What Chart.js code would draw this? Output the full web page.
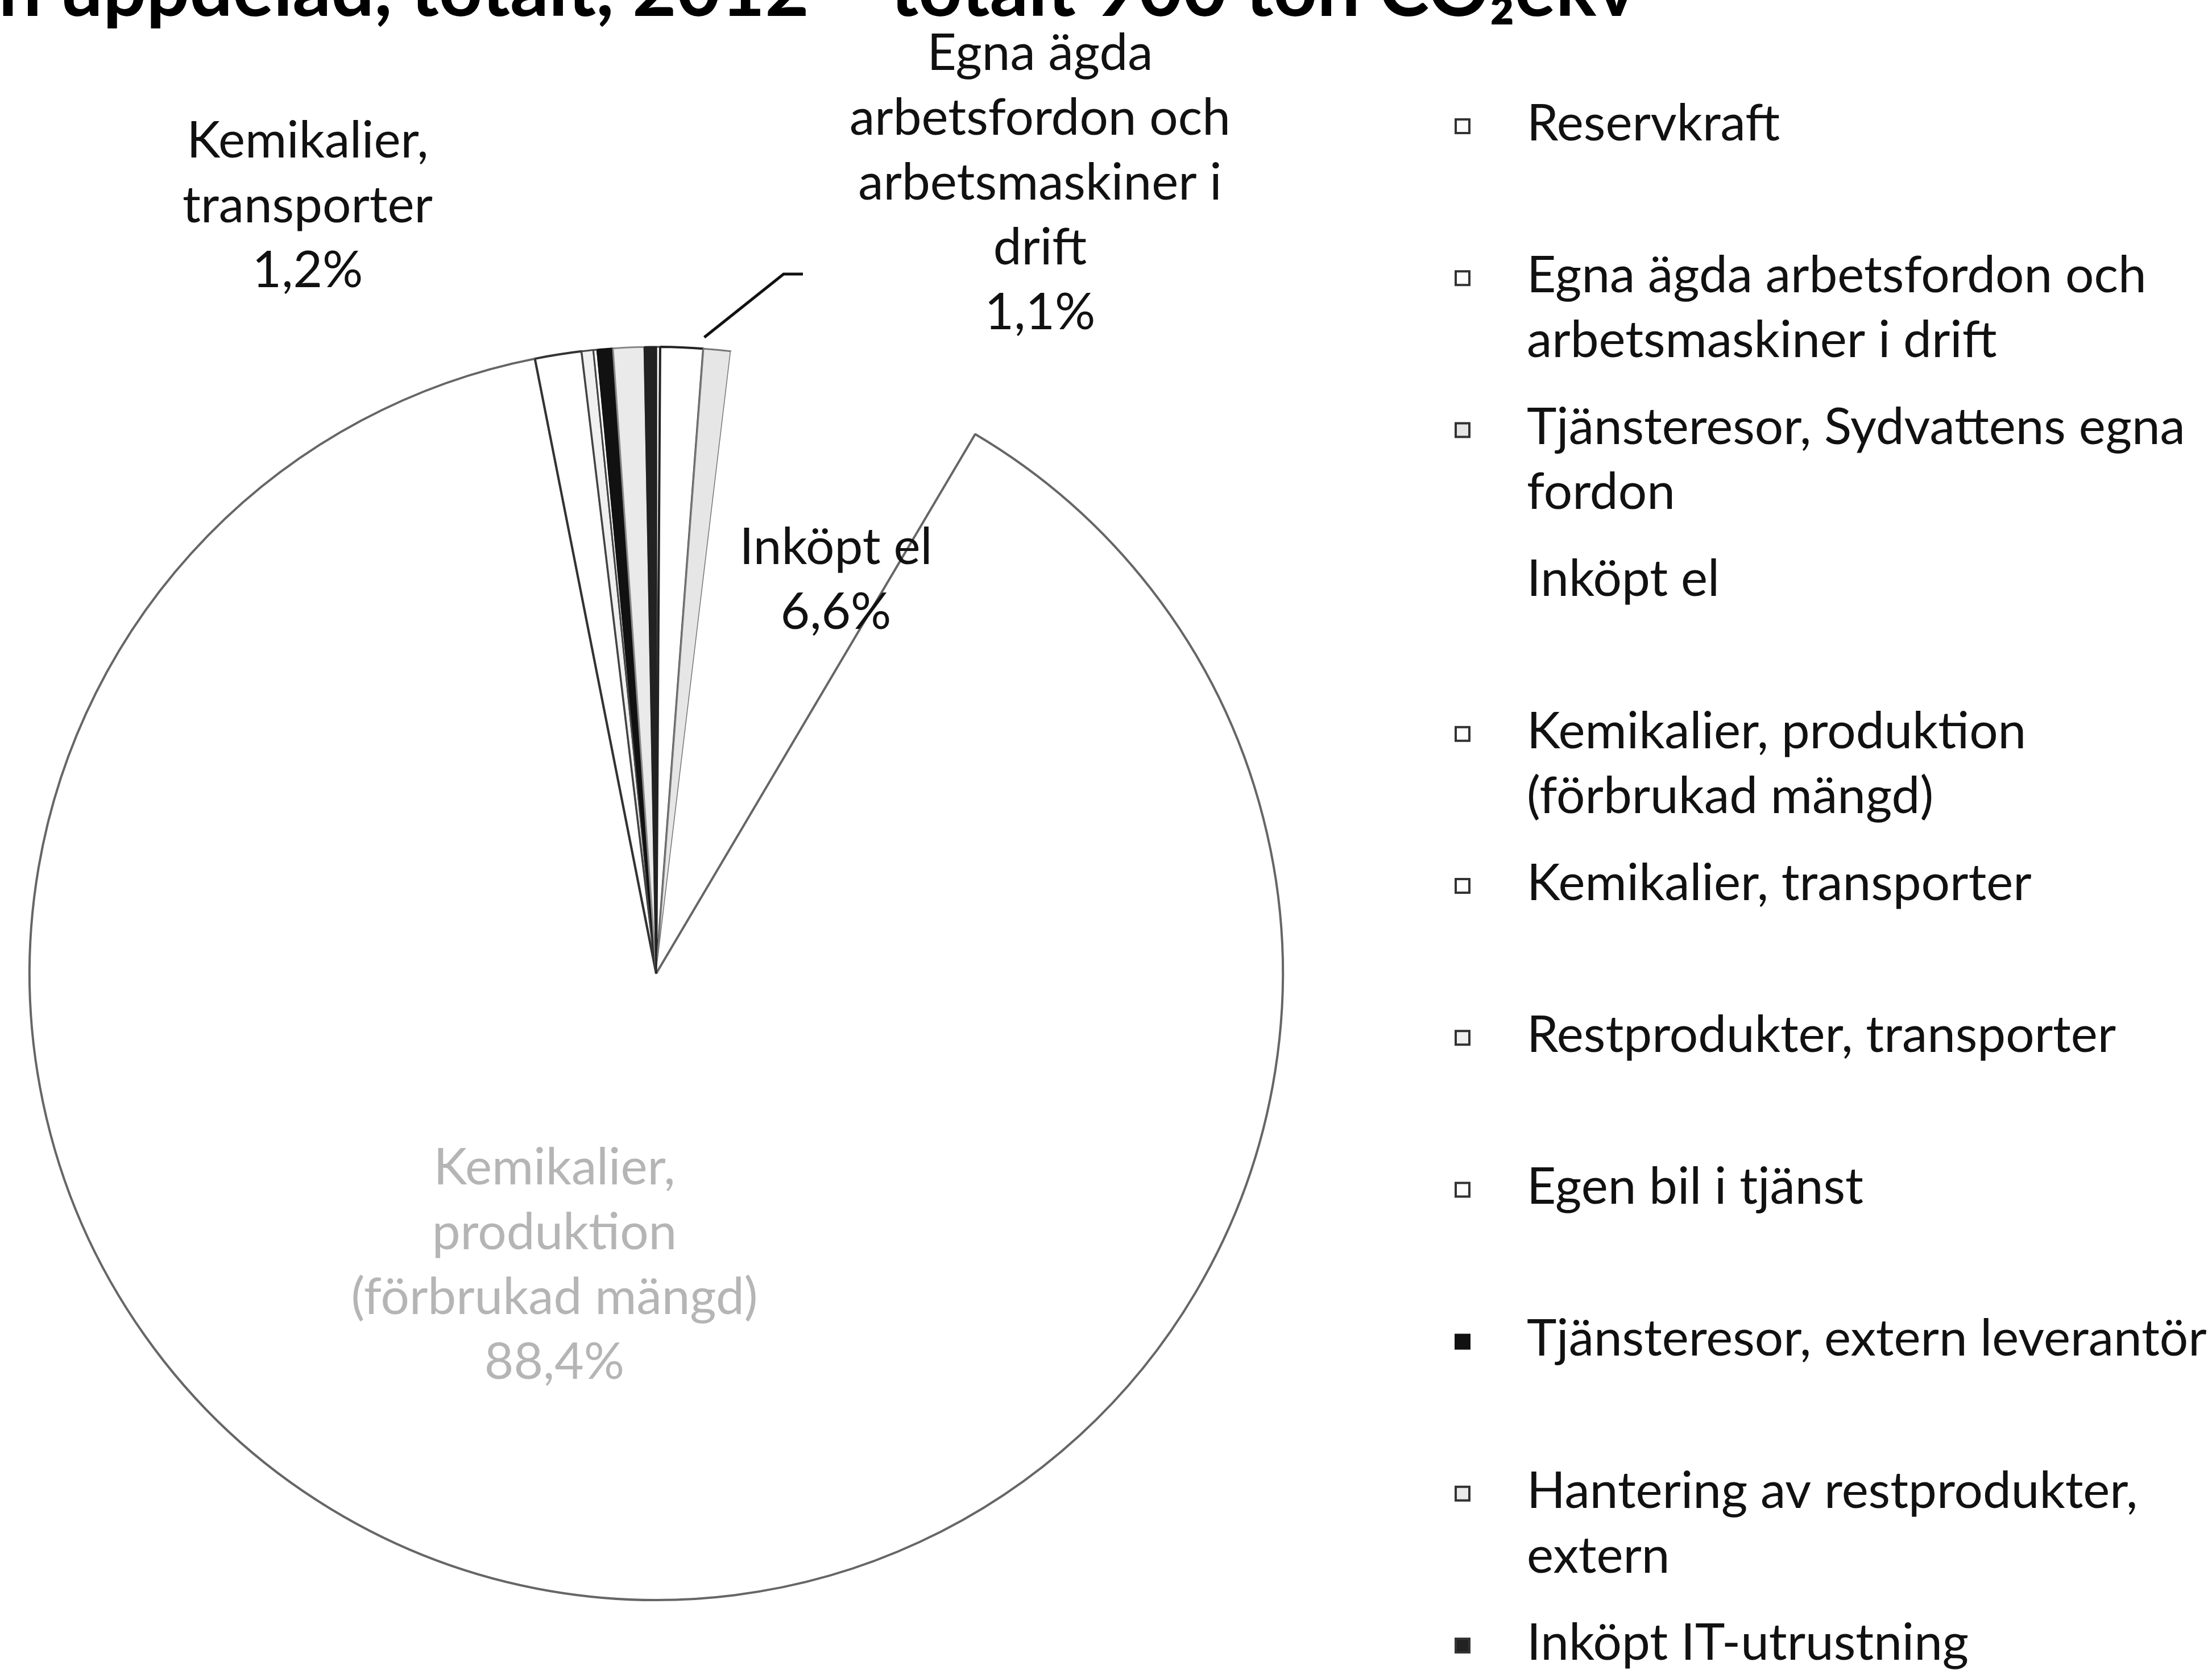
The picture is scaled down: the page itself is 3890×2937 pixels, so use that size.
<!DOCTYPE html>
<html>
<head>
<meta charset="utf-8">
<script src="https://cdn.jsdelivr.net/npm/chart.js@4.4.1/dist/chart.umd.min.js"></script>
<style>
  html, body { margin: 0; padding: 0; background: #fff; }
  #wrap { position: relative; width: 3890px; height: 2937px; overflow: hidden; }
</style>
</head>
<body>
<div id="wrap"><canvas id="pieChart" width="3890" height="2937"></canvas></div>
<script>
// categories in legend order (pie runs clockwise from 12 o'clock in this order)
const categories = [
  'Reservkraft',
  'Egna ägda arbetsfordon och arbetsmaskiner i drift',
  'Tjänsteresor, Sydvattens egna fordon',
  'Inköpt el',
  'Kemikalier, produktion (förbrukad mängd)',
  'Kemikalier, transporter',
  'Restprodukter, transporter',
  'Egen bil i tjänst',
  'Tjänsteresor, extern leverantör',
  'Hantering av restprodukter, extern',
  'Inköpt IT-utrustning'
];
// share of total, percent
const shares = [0.1, 1.1, 0.7, 6.6, 88.4, 1.2, 0.3, 0.1, 0.4, 0.8, 0.3];

// which slices carry a data label
const labelled = [1, 3, 4, 5];

const titleText = 'Klimatpåverkan uppdelad, totalt, 2012 – totalt 900 ton CO₂ekv';

// scanned black & white look
const sliceFills   = ['#fff', '#fff', '#e6e6e6', '#fff', '#fff', '#fff', '#f0f0f0', '#fff', '#111', '#eaeaea', '#222'];
const sliceBorders = ['#444', '#222', '#777', '#fff', '#666', '#333', '#444', '#444', '#111', '#888', '#222'];
const sliceWidths  = [3, 4, 3, 0, 4, 4, 3, 3, 3, 3, 3];

const pct = v => v.toFixed(1).replace('.', ',') + '%';

function wrap(ctx, text, maxW) {
  const words = text.split(' ');
  const lines = [];
  let cur = '';
  words.forEach(w => {
    const t = cur ? cur + ' ' + w : w;
    if (cur && ctx.measureText(t).width > maxW) {
      lines.push(cur);
      cur = w;
    } else {
      cur = t;
    }
  });
  if (cur) lines.push(cur);
  return lines;
}

const FONT = 'Lato, "Open Sans", sans-serif';

// callout placement (label centre x, first line y, wrap width)
const callouts = {
  1: { x: 1829, y: 94, w: 720, color: '#111' },
  3: { x: 1470, y: 963, w: 400, color: '#111' },
  4: { x: 975, y: 2054, w: 740, color: '#b5b5b5' },
  5: { x: 541, y: 248, w: 470, color: '#111' }
};

const pieText = {
  id: 'pieText',
  afterDraw(chart) {
    const ctx = chart.ctx;
    ctx.save();

    // size text so the widest legend entry matches the original
    ctx.font = '100px ' + FONT;
    const fs = Math.round(100 * 1200 / ctx.measureText('Tjänsteresor, extern leverantör').width);
    const lh = 114;
    ctx.font = fs + 'px ' + FONT;
    ctx.textBaseline = 'middle';

    // title, cut off at the top like the scan
    ctx.save();
    ctx.font = 'bold 134px ' + FONT;
    ctx.fillStyle = '#000';
    ctx.textAlign = 'right';
    ctx.textBaseline = 'alphabetic';
    ctx.fillText(titleText, 2878, 28);
    ctx.restore();

    // data labels
    const meta = chart.getDatasetMeta(0);
    ctx.textAlign = 'center';
    labelled.forEach(i => {
      const c = callouts[i];
      const lines = wrap(ctx, categories[i], c.w).concat([pct(shares[i])]);
      ctx.fillStyle = c.color;
      lines.forEach((ln, k) => ctx.fillText(ln, c.x, c.y + k * lh));
    });

    // leader line for Egna ägda
    const arc = meta.data[1];
    const p = arc.getProps(['x', 'y', 'endAngle', 'outerRadius'], true);
    const r = p.outerRadius + 20;
    ctx.strokeStyle = '#111';
    ctx.lineWidth = 5;
    ctx.beginPath();
    ctx.moveTo(1412, 482);
    ctx.lineTo(1378, 482);
    ctx.lineTo(p.x + Math.cos(p.endAngle) * r, p.y + Math.sin(p.endAngle) * r);
    ctx.stroke();

    // legend
    ctx.textAlign = 'left';
    const box = 24;
    categories.forEach((name, i) => {
      const y0 = 218 + i * 267.2;
      if (sliceWidths[i] > 0) {
        ctx.fillStyle = sliceFills[i];
        ctx.fillRect(2560, y0 - box / 2 + 4, box, box);
        ctx.strokeStyle = i === 8 ? '#111' : '#333';
        ctx.lineWidth = 4;
        ctx.strokeRect(2560, y0 - box / 2 + 4, box, box);
      }
      ctx.fillStyle = '#111';
      wrap(ctx, name, 1225).forEach((ln, k) => ctx.fillText(ln, 2685, y0 + k * lh));
    });

    ctx.restore();
  }
};

const ctx = document.getElementById('pieChart').getContext('2d');
const pieChart = new Chart(ctx, {
  type: 'pie',
  data: {
    labels: categories,
    datasets: [{
      data: shares,
      backgroundColor: sliceFills,
      borderColor: sliceBorders,
      borderWidth: sliceWidths
    }]
  },
  options: {
    responsive: false,
    animation: false,
    layout: { padding: { left: 50, top: 608, right: 1632, bottom: 121 } },
    plugins: {
      legend: { display: false },
      tooltip: { enabled: false },
      title: { display: false }
    }
  },
  plugins: [pieText]
});
</script>
</body>
</html>
